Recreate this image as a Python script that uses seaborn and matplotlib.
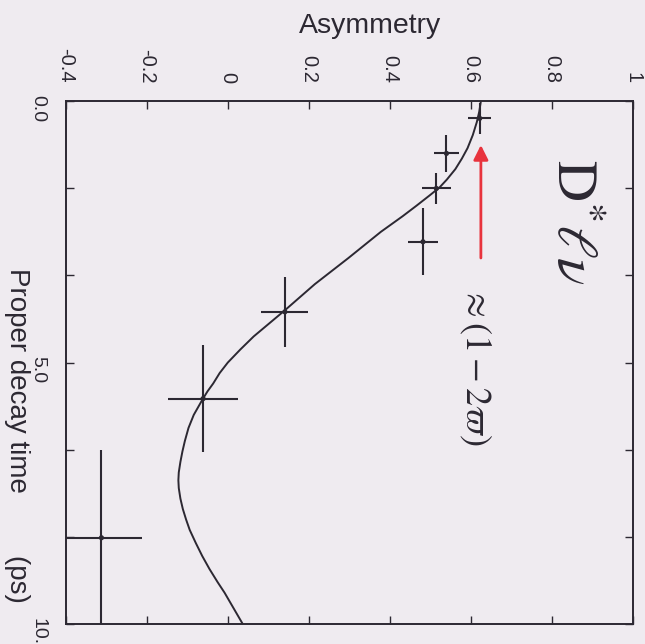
import matplotlib
matplotlib.use("Agg")
import matplotlib.pyplot as plt
import numpy as np
import pandas as pd
import seaborn as sns

# Fitted asymmetry curve, sampled along proper decay time (ps)
fit_time = [0.0, 0.2, 0.4, 0.65, 0.9, 1.1, 1.3, 1.5, 1.65, 1.8, 2.0, 2.2,
            2.5, 3.0, 3.5, 4.0, 4.5, 4.75, 5.0, 5.2, 5.4, 5.55, 5.7, 6.0,
            6.25, 6.5, 6.7, 6.9, 7.1, 7.25, 7.4, 7.6, 7.8, 8.0, 8.2, 8.45,
            8.7, 8.95, 9.2, 9.4, 9.6, 9.8, 10.0]
fit_asym = [0.625, 0.621, 0.615, 0.605, 0.592, 0.578, 0.562, 0.541, 0.523,
            0.499, 0.466, 0.432, 0.378, 0.298, 0.215, 0.141, 0.064, 0.031,
            0.000, -0.020, -0.036, -0.050, -0.062, -0.084, -0.097, -0.106,
            -0.112, -0.117, -0.121, -0.122, -0.121, -0.117, -0.111, -0.103,
            -0.094, -0.079, -0.063, -0.045, -0.025, -0.008, 0.007, 0.022,
            0.037]

# Measured asymmetry per decay-time bin
bin_time = [0.33, 1.00, 1.67, 2.69, 4.03, 5.69, 8.35]
bin_halfwidth = [0.30, 0.35, 0.30, 0.64, 0.67, 1.02, 1.68]
meas_asym = [0.622, 0.540, 0.515, 0.482, 0.141, -0.061, -0.312]
meas_err = [0.028, 0.031, 0.035, 0.037, 0.058, 0.086, 0.099]

asym_ticks = [-0.4, -0.2, 0.0, 0.2, 0.4, 0.6, 0.8, 1.0]
asym_ticklabels = ["-0.4", "-0.2", "0", "0.2", "0.4", "0.6", "0.8", "1"]
time_ticks = [0.0, 5.0, 10.0]
time_ticklabels = ["0.0", "5.0", "10.0"]
time_minor_ticks = [1.67, 3.33, 6.67, 8.33]

bg = "#efebf0"
ink = "#2c2832"

sns.set_theme(style="ticks")
plt.rcParams["font.family"] = ["Liberation Sans", "DejaVu Sans"]
plt.rcParams["mathtext.fontset"] = "stix"

fit_df = pd.DataFrame({"time": fit_time, "asym": fit_asym})
meas_df = pd.DataFrame({"time": bin_time, "asym": meas_asym,
                        "dt": bin_halfwidth, "da": meas_err})

fig = plt.figure(figsize=(6.45, 6.44), dpi=100, facecolor=bg)
ax = fig.add_axes([0.102, 0.031, 0.879, 0.812], facecolor=bg)

# Decay time runs down the page, asymmetry across it
sns.lineplot(data=fit_df, x="asym", y="time", sort=False, estimator=None,
             color=ink, lw=1.4, ax=ax)
ax.errorbar(meas_df["asym"], meas_df["time"], xerr=meas_df["da"],
            yerr=meas_df["dt"], fmt="none", ecolor=ink, elinewidth=1.5,
            capsize=0)
sns.scatterplot(data=meas_df, x="asym", y="time", color=ink, s=14,
                edgecolor="none", ax=ax, zorder=5)

ax.set_xlim(-0.4, 1.0)
ax.set_ylim(10.0, 0.0)

ax.set_xticks(asym_ticks)
ax.set_xticklabels(asym_ticklabels)
ax.set_yticks(time_ticks)
ax.set_yticklabels(time_ticklabels)
ax.set_yticks(time_minor_ticks, minor=True)

ax.xaxis.tick_top()
ax.tick_params(axis="x", which="both", top=True, bottom=True, labeltop=True,
               labelbottom=False, direction="in", length=6, width=1,
               color=ink, labelsize=14.5, labelcolor=ink, labelrotation=-90,
               pad=13)
ax.tick_params(axis="y", which="both", left=True, right=True, direction="in",
               length=6, width=1, color=ink, labelsize=14, labelcolor=ink,
               labelrotation=-90, pad=14)

for side in ax.spines.values():
    side.set_color(ink)
    side.set_linewidth(1.4)

ax.xaxis.set_label_position("top")
ax.set_xlabel("Asymmetry", fontsize=20.5, color=ink)
ax.xaxis.label.set_va("bottom")
ax.xaxis.set_label_coords(0.536, 1.118)

ax.set_ylabel("Proper decay time        (ps)", fontsize=20, color=ink,
              rotation=-90, va="center", ha="center")
ax.yaxis.set_label_coords(-0.086, 0.36)

ax.annotate("", xy=(0.625, 0.84), xytext=(0.625, 3.0),
            arrowprops=dict(arrowstyle="-|>", color="#e8333d", lw=2.0,
                            mutation_scale=22, shrinkA=0, shrinkB=0))

ax.text(0.85, 2.31, r"$\mathrm{D}^{*}\ell\nu$", rotation=-90, ha="center",
        va="center", fontsize=41, color=ink)
ax.text(0.61, 5.07, r"$\approx(1-2\varpi)$", rotation=-90, ha="center",
        va="center", fontsize=26, color=ink)

fig.savefig("out.png", dpi=100, facecolor=bg)
